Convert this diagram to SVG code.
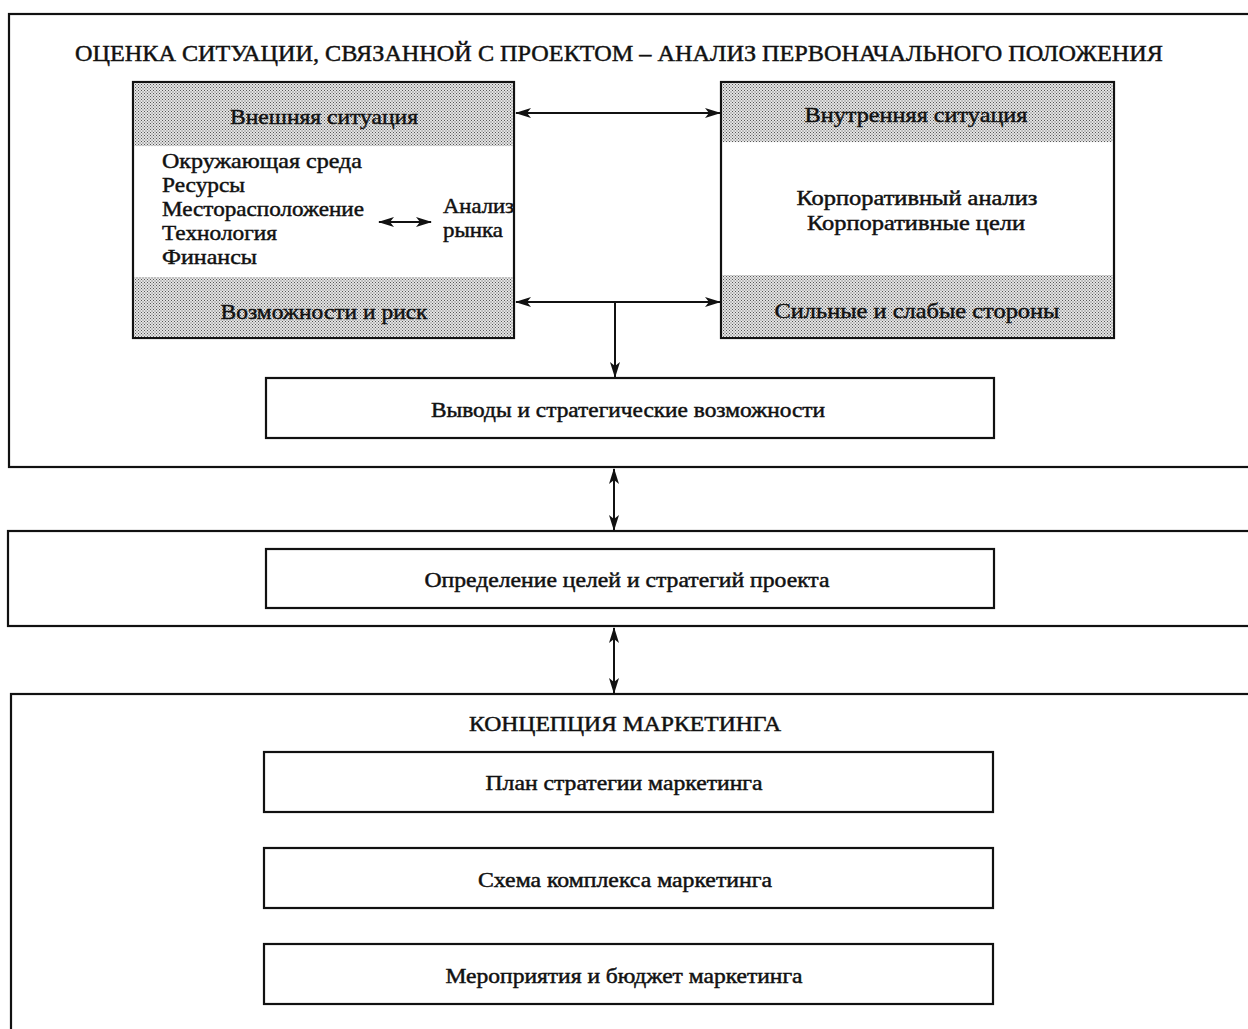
<svg xmlns="http://www.w3.org/2000/svg" width="1248" height="1029" viewBox="0 0 1248 1029">
  <style>
    .frame { fill: none; stroke: #111; stroke-width: 2.2; }
    .box { fill: #fff; stroke: #111; stroke-width: 2.2; }
    .band { fill: url(#dots); stroke: none; }
    .t { font-family: "Liberation Serif", "Times New Roman", serif; fill: #111; stroke: #111; stroke-width: 0.45; }
    .title { font-size: 23px; }
    .lbl { font-size: 20px; text-anchor: middle; }
    .hdr { font-size: 21px; text-anchor: middle; }
    .item { font-size: 21px; }
    .conn { stroke: #111; stroke-width: 2; fill: none; }
  </style>
  <defs>
    <!-- halftone fill for the shaded header/footer bands -->
    <pattern id="dots" width="3" height="3" patternUnits="userSpaceOnUse">
      <rect width="3" height="3" fill="#e4e4e4"/>
      <rect x="0" y="0" width="1" height="1" fill="#555"/>
      <rect x="1.5" y="1.5" width="1" height="1" fill="#555"/>
    </pattern>
    <marker id="ah" viewBox="0 0 16 10" refX="15" refY="5" markerWidth="16" markerHeight="10" markerUnits="userSpaceOnUse" orient="auto-start-reverse">
      <path d="M0,0 L16,5 L0,10 L4,5 Z" fill="#111"/>
    </marker>
  </defs>

  <rect width="1248" height="1029" fill="#fff"/>

  <!-- situation assessment frame -->
  <g id="situation">
    <rect class="frame" x="9" y="14" width="1260" height="453"/>
    <text class="t title" x="75" y="61" textLength="1088" lengthAdjust="spacingAndGlyphs">ОЦЕНКА СИТУАЦИИ, СВЯЗАННОЙ С ПРОЕКТОМ – АНАЛИЗ ПЕРВОНАЧАЛЬНОГО ПОЛОЖЕНИЯ</text>
  </g>

  <!-- external situation -->
  <g id="external">
    <rect class="box" x="133" y="82" width="381" height="256"/>
    <rect class="band" x="134.1" y="83.1" width="378.8" height="63"/>
    <rect class="band" x="134.1" y="277" width="378.8" height="59.9"/>
    <text class="t hdr" x="324" y="124" textLength="188" lengthAdjust="spacingAndGlyphs">Внешняя ситуация</text>
    <text class="t item" x="162" y="168" textLength="200" lengthAdjust="spacingAndGlyphs">Окружающая среда</text>
    <text class="t item" x="162" y="192" textLength="83" lengthAdjust="spacingAndGlyphs">Ресурсы</text>
    <text class="t item" x="162" y="216" textLength="202" lengthAdjust="spacingAndGlyphs">Месторасположение</text>
    <text class="t item" x="162" y="240" textLength="115" lengthAdjust="spacingAndGlyphs">Технология</text>
    <text class="t item" x="162" y="264" textLength="95" lengthAdjust="spacingAndGlyphs">Финансы</text>
    <text class="t item" x="443" y="213" textLength="71" lengthAdjust="spacingAndGlyphs">Анализ</text>
    <text class="t item" x="443" y="237" textLength="60" lengthAdjust="spacingAndGlyphs">рынка</text>
    <text class="t hdr" x="324" y="319" textLength="207" lengthAdjust="spacingAndGlyphs">Возможности и риск</text>
  </g>

  <!-- internal situation -->
  <g id="internal">
    <rect class="box" x="721" y="82" width="393" height="256"/>
    <rect class="band" x="722.1" y="83.1" width="390.8" height="59"/>
    <rect class="band" x="722.1" y="275" width="390.8" height="61.9"/>
    <text class="t hdr" x="916" y="122" textLength="223" lengthAdjust="spacingAndGlyphs">Внутренняя ситуация</text>
    <text class="t lbl" x="917" y="205" textLength="241" lengthAdjust="spacingAndGlyphs">Корпоративный анализ</text>
    <text class="t lbl" x="916" y="230" textLength="218" lengthAdjust="spacingAndGlyphs">Корпоративные цели</text>
    <text class="t hdr" x="917" y="318" textLength="285" lengthAdjust="spacingAndGlyphs">Сильные и слабые стороны</text>
  </g>

  <g id="conclusions">
    <rect class="box" x="266" y="378" width="728" height="60"/>
    <text class="t lbl" x="628" y="417" textLength="394" lengthAdjust="spacingAndGlyphs">Выводы и стратегические возможности</text>
  </g>

  <!-- goals frame -->
  <g id="goals-frame">
    <rect class="frame" x="8" y="531" width="1260" height="95"/>
  </g>
  <g id="goals">
    <rect class="box" x="266" y="549" width="728" height="59"/>
    <text class="t lbl" x="627" y="587" textLength="405" lengthAdjust="spacingAndGlyphs">Определение целей и стратегий проекта</text>
  </g>

  <!-- marketing concept frame -->
  <g id="marketing">
    <rect class="frame" x="11" y="694" width="1260" height="360"/>
    <text class="t lbl" x="625" y="731" textLength="312" lengthAdjust="spacingAndGlyphs">КОНЦЕПЦИЯ МАРКЕТИНГА</text>
  </g>
  <g id="plan">
    <rect class="box" x="264" y="752" width="729" height="60"/>
    <text class="t lbl" x="624" y="790" textLength="277" lengthAdjust="spacingAndGlyphs">План стратегии маркетинга</text>
  </g>
  <g id="mix">
    <rect class="box" x="264" y="848" width="729" height="60"/>
    <text class="t lbl" x="625" y="887" textLength="294" lengthAdjust="spacingAndGlyphs">Схема комплекса маркетинга</text>
  </g>
  <g id="budget">
    <rect class="box" x="264" y="944" width="729" height="60"/>
    <text class="t lbl" x="624" y="983" textLength="357" lengthAdjust="spacingAndGlyphs">Мероприятия и бюджет маркетинга</text>
  </g>

  <!-- connectors -->
  <g id="connectors">
    <line class="conn" x1="516" y1="113" x2="720" y2="113" marker-start="url(#ah)" marker-end="url(#ah)"/>
    <line class="conn" x1="516" y1="302" x2="720" y2="302" marker-start="url(#ah)" marker-end="url(#ah)"/>
    <line class="conn" x1="615" y1="302" x2="615" y2="377" marker-end="url(#ah)"/>
    <line class="conn" x1="379" y1="222" x2="431" y2="222" marker-start="url(#ah)" marker-end="url(#ah)"/>
    <line class="conn" x1="614" y1="469" x2="614" y2="530" marker-start="url(#ah)" marker-end="url(#ah)"/>
    <line class="conn" x1="614" y1="628" x2="614" y2="693" marker-start="url(#ah)" marker-end="url(#ah)"/>
  </g>
</svg>
